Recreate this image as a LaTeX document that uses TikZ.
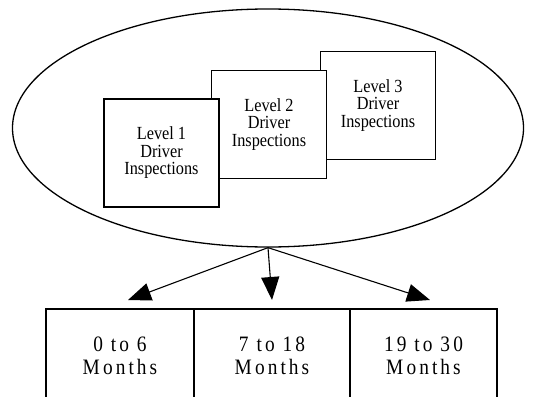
\documentclass[tikz,border=0pt]{standalone}
\usepackage{fontspec}
\setmainfont{Liberation Serif}
\newfontfamily\levelfont[FakeStretch=0.88]{Liberation Serif}
\newfontfamily\monthfont[FakeStretch=0.88, LetterSpace=14]{Liberation Serif}
\usetikzlibrary{shapes.geometric, arrows.meta}

\tikzset{
    level/.style={rectangle, draw, line width=1.4pt, fill=white, minimum width=115pt, minimum height=108pt, inner sep=0pt, align=center, font=\levelfont\fontsize{18.5}{17.5}\selectfont},
    months/.style={rectangle, draw, line width=1.1pt, minimum height=94pt, inner sep=0pt, align=center, font=\monthfont\fontsize{22}{23}\selectfont},
    arrow/.style={line width=1.1pt, -{Triangle[length=23pt, width=18pt]}}
}

\begin{document}
\begin{tikzpicture}[x=1pt, y=-1pt]
    \clip (0,0) rectangle (543,396);

    % Draw nodes
    \node[ellipse, draw, line width=1.3pt, minimum width=511pt, minimum height=238pt] (insp) at (268,128) {};
    \node[level] (l3) at (378,105.5) {Level 3\\Driver\\Inspections};
    \node[level] (l2) at (269,124.5) {Level 2\\Driver\\Inspections};
    \node[level] (l1) at (161.5,153) {Level 1\\Driver\\Inspections};

    \node[months, minimum width=148pt] (m1) at (120,356) {0 to 6\\Months};
    \node[months, minimum width=156pt] (m2) at (272,356) {7 to 18\\Months};
    \node[months, minimum width=147pt] (m3) at (423.5,356) {19 to 30\\Months};

    % Arrow ends
    \coordinate (t1) at (128,300);
    \coordinate (t2) at (272,300);
    \coordinate (t3) at (430,300);

    % Draw connections
    \draw[arrow] (insp.south) -- (t1);
    \draw[arrow] (insp.south) -- (t2);
    \draw[arrow] (insp.south) -- (t3);
\end{tikzpicture}
\end{document}
